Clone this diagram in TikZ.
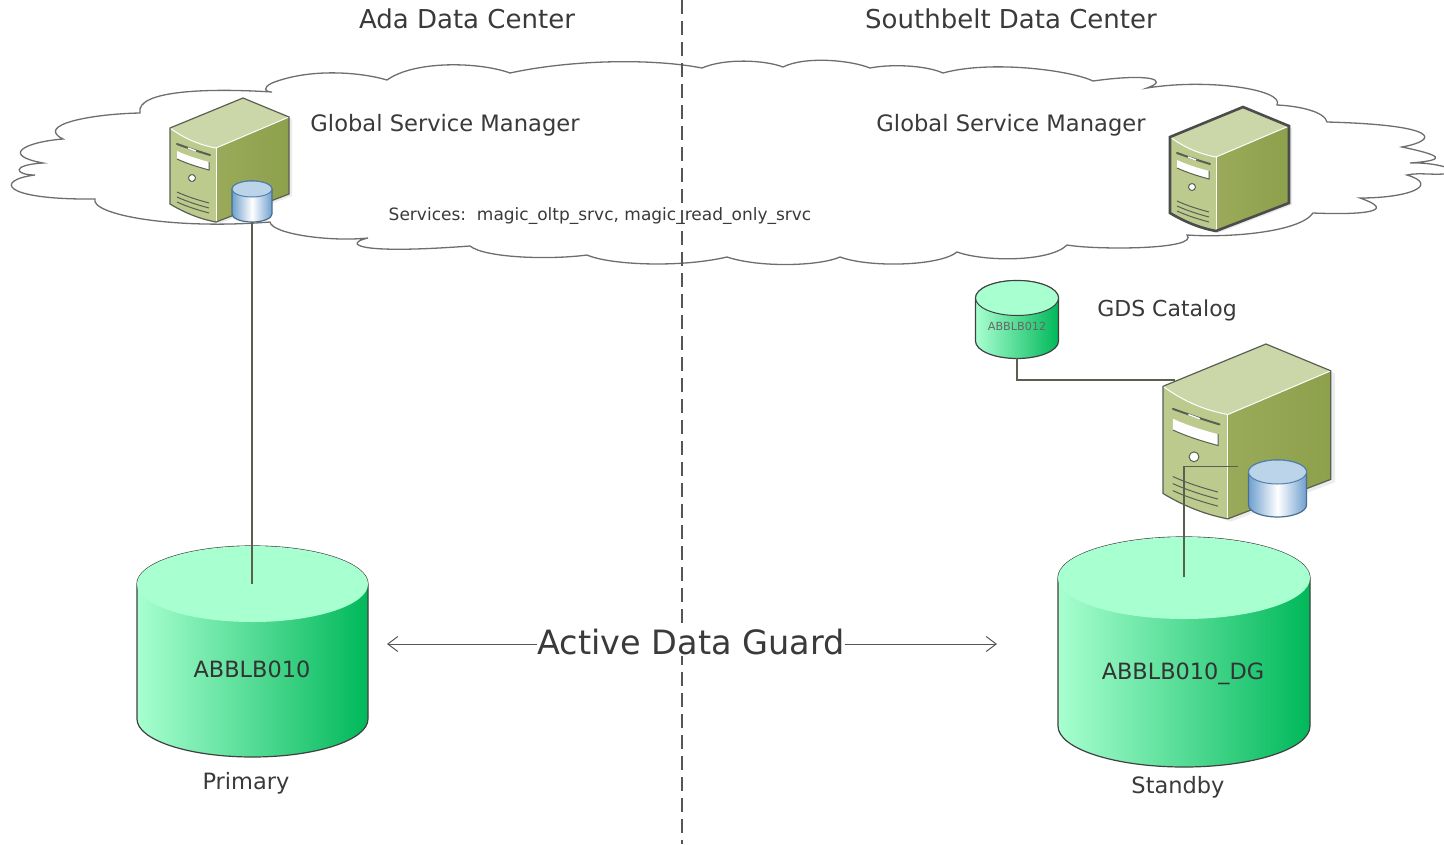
\documentclass[tikz,border=0pt]{standalone}
\usepackage{fontspec}
\setmainfont{DejaVu Sans}
\usetikzlibrary{arrows.meta}
\definecolor{cloudedge}{HTML}{6E6E6E}
\definecolor{dashedge}{HTML}{555555}
\definecolor{textgrey}{HTML}{3A3A3A}
\definecolor{srvedge}{HTML}{5A5F52}
\definecolor{srvtop}{HTML}{CBD6A9}
\definecolor{srvfront}{HTML}{BDCA8E}
\definecolor{srvsideA}{HTML}{9AAA5A}
\definecolor{srvsideB}{HTML}{8DA04B}
\definecolor{mintlight}{HTML}{A8FFD0}
\definecolor{mintdark}{HTML}{00B85A}
\definecolor{bluetop}{HTML}{BCD4E9}
\definecolor{blueedge}{HTML}{4F81AE}
\definecolor{bluedark}{HTML}{6F9FCE}
\definecolor{bluerim}{HTML}{4A6E8E}
\tikzstyle{serveredge}=[draw=srvedge,line width=1.2pt]
\tikzstyle{cloudline}=[draw=cloudedge,line width=1.3pt,fill=white]
\tikzstyle{boundary}=[draw=dashedge,line width=2pt,dash pattern=on 14pt off 7pt]
\tikzstyle{wire}=[draw=srvedge,line width=1.2pt]
\tikzstyle{guardline}=[draw=dashedge,line width=1pt,-{Straight Barb[length=10pt,width=15pt]}]
\tikzstyle{title}=[text=textgrey,inner sep=0pt,anchor=base,font=\fontsize{26}{30}\selectfont]
\tikzstyle{caption}=[text=textgrey,inner sep=0pt,anchor=base,font=\fontsize{22.5}{26}\selectfont]
\tikzstyle{dblabel}=[text=black!80,inner sep=0pt,anchor=base,font=\fontsize{22.4}{26}\selectfont]
\tikzstyle{greendb}=[draw=black!75,line width=1.2pt,left color=mintlight,right color=mintdark]
\tikzstyle{greentop}=[fill=mintlight]
\tikzstyle{bluedb}=[draw=bluerim,line width=1.2pt,left color=bluedark,right color=bluedark,middle color=white]
\tikzstyle{bluetopface}=[fill=bluetop,draw=blueedge,line width=1pt]
\newcommand{\dbcyl}[7]{%
  \path[#6] ({#1-#3},#2) -- ({#1-#3},{#2+#5})
     arc[start angle=180,end angle=360,x radius=#3pt,y radius=#4pt]
     -- ({#1+#3},#2)
     arc[start angle=0,end angle=180,x radius=#3pt,y radius=#4pt] -- cycle;
  \path[#7] (#1,#2) ellipse[x radius=#3pt,y radius=#4pt];
}
\tikzset{
  pics/serverbox/.style={code={
    \fill[gray!25,opacity=.6] (2,32) -- (75,2) -- (122,21) -- (122,98) -- (48,126) -- (2,108) -- cycle;
    \path[fill=srvfront] (0,30) .. controls (15,41) and (30,47) .. (46,50) -- (46,124)
        .. controls (30,121) and (15,115) .. (0,106) -- cycle;
    \path[fill=srvtop] (0,30) -- (73,0) -- (119,19) -- (46,50) .. controls (30,47) and (15,41) .. (0,30) -- cycle;
    \path[left color=srvsideA,right color=srvsideB] (46,50) -- (119,19) -- (119,96) -- (46,124) -- cycle;
    \draw[white,line width=1pt] (0,30) .. controls (15,41) and (30,47) .. (46,50) -- (119,19);
    \draw[white,line width=1pt] (46,50) -- (46,124);
    \path[serveredge] (0,30) -- (73,0) -- (119,19) -- (119,96) -- (46,124)
        .. controls (30,121) and (15,115) .. (0,106) -- cycle;
    \draw[srvedge,line width=2pt,line cap=round] (7,46) .. controls (18,50) and (30,54) .. (40,57);
    \draw[white,line width=1.4pt] (18,50) -- (26,53);
    \fill[white] (7,53) .. controls (18,58) and (28,61) .. (39,64) -- (39,72) .. controls (28,69) and (18,66) .. (7,61) -- cycle;
    \draw[srvedge,line width=1pt] (39,64) -- (39,72) .. controls (28,69) and (18,66) .. (7,61);
    \path[draw=srvedge,line width=1pt,fill=white] (22,80) circle[radius=3.5pt];
    \foreach \ventoff in {0,5,10} {
      \draw[srvedge,line width=1pt] (7,94+\ventoff) .. controls (18,99+\ventoff) and (28,102+\ventoff) .. (39,105+\ventoff);
    }
    \coordinate (-edge) at (8.5,25.5);
    \coordinate (-rear) at (53,87);
  }}
}
\begin{document}
\begin{tikzpicture}[x=1pt,y=-1pt]
  \useasboundingbox (0,0) rectangle (1444,844);
  \path[cloudline] (63,139)
    .. controls (25,142) and (0,155) .. (43,163)
    .. controls (10,165) and (15,175) .. (35,175)
    .. controls (-5,180) and (0,200) .. (95,199)
    .. controls (90,214) and (170,230) .. (270,222)
    .. controls (272,234) and (330,242) .. (368,238)
    .. controls (345,243) and (350,255) .. (470,246)
    .. controls (485,258) and (550,260) .. (587,255)
    .. controls (610,265) and (680,268) .. (727,257)
    .. controls (760,268) and (820,266) .. (840,257)
    .. controls (870,268) and (940,266) .. (957,252)
    .. controls (985,262) and (1050,262) .. (1067,245)
    .. controls (1095,250) and (1200,250) .. (1187,235)
    .. controls (1230,238) and (1300,232) .. (1313,213)
    .. controls (1360,215) and (1400,212) .. (1360,198)
    .. controls (1410,198) and (1440,185) .. (1407,175)
    .. controls (1420,172) and (1435,176) .. (1452,173)
    .. controls (1462,172) and (1440,162) .. (1410,163)
    .. controls (1450,160) and (1440,155) .. (1402,147)
    .. controls (1440,140) and (1440,125) .. (1327,122)
    .. controls (1325,112) and (1300,106) .. (1277,105)
    .. controls (1285,90) and (1210,78) .. (1147,88)
    .. controls (1170,80) and (1150,73) .. (1093,81)
    .. controls (1070,70) and (990,60) .. (943,73)
    .. controls (925,65) and (890,64) .. (870,68)
    .. controls (850,60) and (805,56) .. (783,67)
    .. controls (765,60) and (725,58) .. (702,68)
    .. controls (650,58) and (570,60) .. (510,73)
    .. controls (480,62) and (415,60) .. (387,80)
    .. controls (360,72) and (310,68) .. (272,83)
    .. controls (262,88) and (265,92) .. (272,92)
    .. controls (210,88) and (135,90) .. (140,113)
    .. controls (90,114) and (35,125) .. (63,139) -- cycle;

  \draw[boundary] (682,0) -- (682,844);

  \pic (srvada) at (170,98) {serverbox};
  \pic[serveredge/.style={draw=black!70,line width=2.6pt}] (srvsouth) at (1170,107) {serverbox};
  \pic[scale=1.41] (srvcat) at (1163,344) {serverbox};

  \dbcyl{252}{189}{20}{8}{25}{bluedb}{bluetopface}
  \dbcyl{1277.5}{472}{29}{12}{33}{bluedb}{bluetopface}
  \coordinate (bluead) at (252,222);
  \coordinate (bluesb) at (1238,467);

  \dbcyl{1017}{298}{41.5}{17.5}{43}{greendb}{greentop,draw=black!75,line width=1pt}
  \dbcyl{252.5}{584}{115.5}{38}{135}{greendb}{greentop}
  \dbcyl{1184}{578}{126}{41}{148}{greendb}{greentop}
  \coordinate (primarydb) at (252,584);
  \coordinate (standbydb) at (1184,577);
  \coordinate (catalogdb) at (1017,358);

  \draw[wire] (bluead) -- (primarydb);
  \draw[wire] (catalogdb) |- (srvcat-edge);
  \draw[wire] (standbydb) |- (srvcat-rear);

  \node[title] (adatitle) at (467,28) {Ada Data Center};
  \node[title] (southtitle) at (1011,28) {Southbelt Data Center};
  \node[caption,font=\fontsize{22.6}{26}\selectfont] (gsmada) at (445,131) {Global Service Manager};
  \node[caption,font=\fontsize{22.6}{26}\selectfont] (gsmsouth) at (1011,131) {Global Service Manager};
  \node[caption,font=\fontsize{17}{20}\selectfont] (services) at (600,220) {Services:\ \ magic\_oltp\_srvc, magic\_read\_only\_srvc};
  \node[caption,font=\fontsize{22}{26}\selectfont] (gdscat) at (1167,316) {GDS Catalog};
  \node[dblabel,text=black!60,font=\fontsize{11.2}{13}\selectfont] (catname) at (1017,330) {ABBLB012};
  \node[dblabel] (primaryname) at (252,677) {ABBLB010};
  \node[dblabel] (standbyname) at (1183,679) {ABBLB010\_DG};
  \node[caption] (primarycap) at (246,789) {Primary};
  \node[caption] (standbycap) at (1178,793) {Standby};
  \node[text=textgrey,fill=white,inner xsep=0pt,inner ysep=2pt,anchor=base,font=\fontsize{33.5}{38}\selectfont] (guard) at (691,654) {Active Data Guard};
  \coordinate (guardleft) at (387,644);
  \coordinate (guardright) at (997,644);
  \draw[guardline] (guard.west |- guardleft) -- (guardleft);
  \draw[guardline] (guard.east |- guardright) -- (guardright);
\end{tikzpicture}
\end{document}
